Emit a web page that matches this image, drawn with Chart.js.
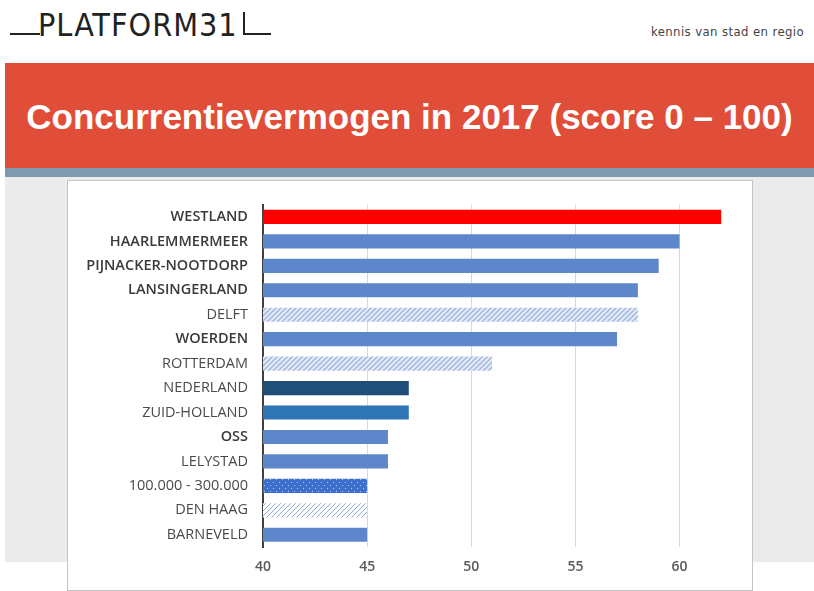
<!DOCTYPE html>
<html>
<head>
<meta charset="utf-8">
<script src="https://cdn.jsdelivr.net/npm/chart.js@4.4.1/dist/chart.umd.min.js"></script>
<style>
  body { margin: 0; width: 814px; height: 591px; background: #fff; position: relative; overflow: hidden; font-family: "Liberation Sans", Arial, sans-serif; }
  .abs { position: absolute; }
  #logo { left: 38px; top: 6px; font-family: "DejaVu Sans Condensed", "DejaVu Sans", sans-serif; font-weight: 200; font-size: 32px; color: #222; letter-spacing: 1px; }
  .rule { height: 2px; background: #222; }
  #tagline { left: 651px; top: 24px; white-space: nowrap; font-family: "DejaVu Sans Condensed", "DejaVu Sans", sans-serif; font-size: 13px; color: #444; letter-spacing: 0.4px; }
  #banner { left: 5px; top: 63px; width: 809px; height: 105px; background: #e04e3a; color: #fff; font-weight: bold; font-size: 35px; text-align: center; line-height: 108px; }
  #strip { left: 5px; top: 168px; width: 809px; height: 9px; background: #7f9aaf; }
  #grey { left: 5px; top: 177px; width: 809px; height: 385px; background: #ebebeb; }
  #panel { left: 67px; top: 180px; width: 684px; height: 409px; background: #fff; border: 1px solid #c4c4c4; }
</style>
</head>
<body>
<div id="logo" class="abs">PLATFORM31</div>
<div class="abs rule" style="left:10px;top:33px;width:30px;"></div>
<div class="abs rule" style="left:243px;top:33px;width:28px;"></div>
<div class="abs" style="left:243px;top:12px;width:2px;height:23px;background:#222;"></div>
<div id="tagline" class="abs">kennis van stad en regio</div>
<div id="banner" class="abs">Concurrentievermogen in 2017 (score 0 – 100)</div>
<div id="strip" class="abs"></div>
<div id="grey" class="abs"></div>
<div id="panel" class="abs"><canvas id="chart" width="684" height="409"></canvas></div>
<script>
// data
const categories = [
  'WESTLAND', 'HAARLEMMERMEER', 'PIJNACKER-NOOTDORP', 'LANSINGERLAND', 'DELFT',
  'WOERDEN', 'ROTTERDAM', 'NEDERLAND', 'ZUID-HOLLAND', 'OSS', 'LELYSTAD',
  '100.000 - 300.000', 'DEN HAAG', 'BARNEVELD'
];
const scores = [62, 60, 59, 58, 58, 57, 51, 47, 47, 46, 46, 45, 45, 45];
const boldLabels = ['WESTLAND', 'HAARLEMMERMEER', 'PIJNACKER-NOOTDORP', 'LANSINGERLAND', 'WOERDEN', 'OSS'];
const xTicks = [40, 45, 50, 55, 60];

// fill patterns like the excel chart
function hatch(fg, bg, lw) {
  const c = document.createElement('canvas');
  c.width = c.height = 5;
  const g = c.getContext('2d');
  g.fillStyle = bg;
  g.fillRect(0, 0, 5, 5);
  g.strokeStyle = fg;
  g.lineWidth = lw;
  g.beginPath();
  g.moveTo(-1, 6); g.lineTo(6, -1);
  g.moveTo(-1, 1); g.lineTo(1, -1);
  g.moveTo(4, 6); g.lineTo(6, 4);
  g.stroke();
  return g.createPattern(c, 'repeat');
}
function dots(fg, bg) {
  const c = document.createElement('canvas');
  c.width = c.height = 6;
  const g = c.getContext('2d');
  g.fillStyle = bg;
  g.fillRect(0, 0, 6, 6);
  g.fillStyle = fg;
  g.fillRect(1, 1, 1, 1);
  g.fillRect(4, 4, 1, 1);
  return g.createPattern(c, 'repeat');
}

const blue = '#5d87ca';
const lightHatch = hatch('#9fb5e0', '#e4ebf7', 1.4);
const fills = {
  'WESTLAND': '#ff0000',
  'DELFT': lightHatch,
  'ROTTERDAM': lightHatch,
  'NEDERLAND': '#1f4e79',
  'ZUID-HOLLAND': '#2e75b6',
  '100.000 - 300.000': dots('#b9ccf0', '#3d6fcf'),
  'DEN HAAG': hatch('#8ea6d8', '#ffffff', 1)
};

const ctx = document.getElementById('chart').getContext('2d');
new Chart(ctx, {
  type: 'bar',
  data: {
    labels: categories,
    datasets: [{
      data: scores,
      backgroundColor: categories.map((c) => fills[c] || blue),
      borderWidth: 0,
      categoryPercentage: 0.58,
      barPercentage: 1
    }]
  },
  options: {
    indexAxis: 'y',
    responsive: false,
    animation: false,
    layout: { padding: { top: 21, right: 10, left: 0, bottom: 0 } },
    plugins: { legend: { display: false }, tooltip: { enabled: false } },
    scales: {
      x: {
        min: 40,
        max: 63,
        afterBuildTicks: (scale) => {
          scale.ticks = xTicks.map((v) => ({ value: v }));
        },
        afterFit: (scale) => { scale.height = 43; },
        grid: {
          drawTicks: false,
          color: (c) => (c.tick && c.tick.value === 40 ? 'rgba(0,0,0,0)' : '#d9d9d9'),
          lineWidth: 1
        },
        border: { display: false },
        ticks: {
          padding: 12,
          color: '#595959',
          font: { family: 'Open Sans', size: 14, weight: '600' }
        }
      },
      y: {
        afterFit: (scale) => { scale.width = 195; },
        grid: { display: false, drawTicks: false },
        border: { color: '#404040', width: 2 },
        ticks: {
          padding: 15,
          autoSkip: false,
          color: (c) => (boldLabels.includes(categories[c.index]) ? '#3a3a3a' : '#4a4a4a'),
          font: (c) => ({
            family: 'Open Sans',
            size: 14.5,
            weight: boldLabels.includes(categories[c.index]) ? '600' : '400'
          })
        }
      }
    }
  }
});
</script>
</body>
</html>
